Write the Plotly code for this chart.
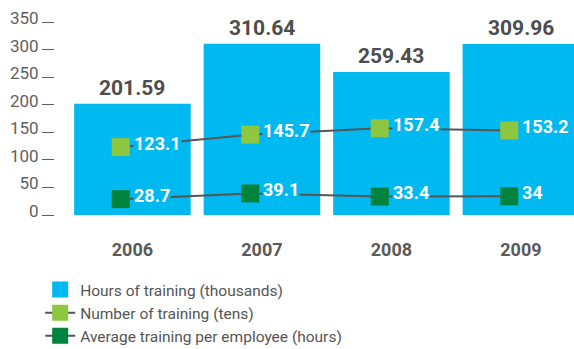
import plotly.graph_objects as go

years = ["2006", "2007", "2008", "2009"]
hours_thousands = [201.59, 310.64, 259.43, 309.96]
trainings_tens = [123.1, 145.7, 157.4, 153.2]
avg_per_employee = [28.7, 39.1, 33.4, 34]

y_ticks = [0, 50, 100, 150, 200, 250, 300, 350]

BLUE = "#00b9f1"
LIGHT_GREEN = "#8dc63f"
DARK_GREEN = "#00843d"
LINE_GREY = "#555555"
TEXT_GREY = "#4d4d4d"
FONT = "Roboto"

xpos = list(range(len(years)))
marker_offset = -0.09
xm = [x + marker_offset for x in xpos]

fig = go.Figure()

fig.add_trace(go.Bar(
    x=xpos, y=hours_thousands, width=0.9,
    marker=dict(color=BLUE, line=dict(width=0)),
    name="Hours of training (thousands)",
    showlegend=False, hoverinfo="skip",
))
# legend entry for the bars, drawn as a larger square swatch
fig.add_trace(go.Scatter(
    x=[None], y=[None], mode="markers",
    marker=dict(symbol="square", size=17, color=BLUE),
    name="Hours of training (thousands)",
))

fig.add_trace(go.Scatter(
    x=xm, y=trainings_tens, mode="lines+markers",
    line=dict(color=LINE_GREY, width=2),
    marker=dict(symbol="square", size=18, color=LIGHT_GREEN),
    name="Number of training (tens)",
    hoverinfo="skip",
))

fig.add_trace(go.Scatter(
    x=xm, y=avg_per_employee, mode="lines+markers",
    line=dict(color=LINE_GREY, width=2),
    marker=dict(symbol="square", size=18, color=DARK_GREEN),
    name="Average training per employee (hours)",
    hoverinfo="skip",
))

annotations = []
# totals above each bar
for x, v in zip(xpos, hours_thousands):
    annotations.append(dict(
        x=x, y=v, xref="x", yref="y", text=f"<b>{v:.2f}</b>",
        showarrow=False, xanchor="center", yanchor="bottom", yshift=2,
        font=dict(family=FONT, size=21, color=TEXT_GREY),
    ))
# white value labels next to each marker, boxed in bar colour so the line hides behind them
for series in (trainings_tens, avg_per_employee):
    for x, v in zip(xm, series):
        annotations.append(dict(
            x=x, y=v, xref="x", yref="y", text=f"<b>{v:g}</b>",
            showarrow=False, xanchor="left", yanchor="middle",
            xshift=12, yshift=4, bgcolor=BLUE, borderpad=0,
            font=dict(family=FONT, size=18, color="white"),
        ))

fig.update_layout(
    width=574, height=349,
    margin=dict(l=55, r=0, t=22, b=134, autoexpand=False),
    paper_bgcolor="white", plot_bgcolor="white",
    showlegend=True,
    legend=dict(
        x=0.07, y=0.218, xref="container", yref="container",
        xanchor="left", yanchor="top",
        font=dict(family=FONT, size=15.5, color="#555555"),
        itemwidth=30, bgcolor="rgba(0,0,0,0)",
        traceorder="normal",
    ),
    annotations=annotations,
)

fig.update_xaxes(
    type="linear",
    range=[-0.598, 3.41],
    tickvals=xpos, ticktext=[f"<b>{y}</b>" for y in years],
    tickfont=dict(family=FONT, size=18, color="#5a5a5a"),
    showgrid=False, zeroline=False, showline=False,
    ticks="", ticklabelstandoff=22,
)

fig.update_yaxes(
    type="linear",
    range=[0, 350],
    tickvals=y_ticks,
    tickfont=dict(family=FONT, size=17, color="#5f5f5f"),
    showgrid=False, zeroline=False, showline=False,
    ticks="outside", ticklen=12, tickwidth=1, tickcolor="#5f5f5f",
    ticklabelshift=-4, ticklabelstandoff=0,
)

fig.write_html("out.html")
